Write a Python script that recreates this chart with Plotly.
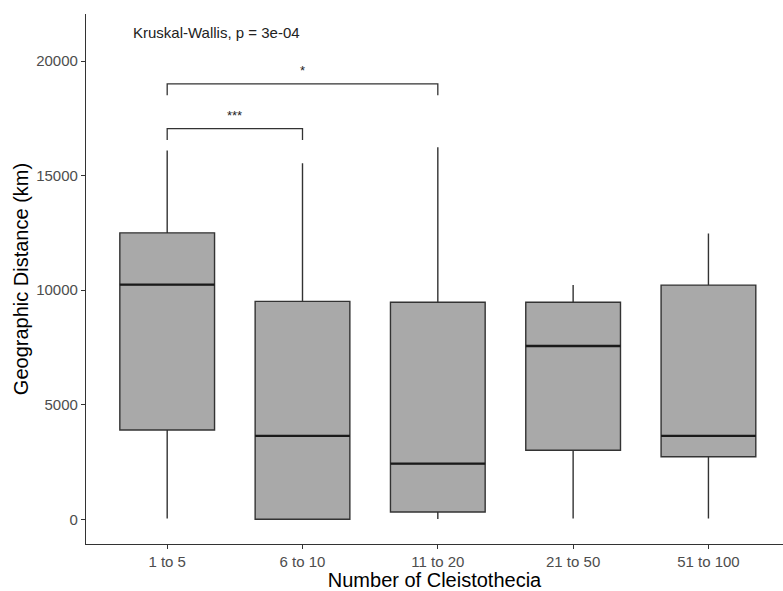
import plotly.graph_objects as go

# Group labels and five-number summaries (km)
groups = ["1 to 5", "6 to 10", "11 to 20", "21 to 50", "51 to 100"]
whisker_low = [40, 0, 15, 40, 40]
q1 = [3900, 0, 320, 3010, 2730]
median = [10240, 3640, 2430, 7560, 3640]
q3 = [12500, 9510, 9470, 9470, 10220]
whisker_high = [16090, 15540, 16240, 10230, 12470]

# Pairwise comparisons: (group a, group b, label, bracket height)
comparisons = [
    ("1 to 5", "6 to 10", "***", 17050),
    ("1 to 5", "11 to 20", "*", 19000),
]
overall_test = "Kruskal-Wallis, p = 3e-04"

y_ticks = [0, 5000, 10000, 15000, 20000]

FONT = "Arial, Liberation Sans, sans-serif"
pos = list(range(1, len(groups) + 1))
box_w = 0.7

fig = go.Figure()

fig.add_trace(go.Box(
    x=pos,
    q1=q1, median=median, q3=q3,
    lowerfence=whisker_low, upperfence=whisker_high,
    width=box_w,
    whiskerwidth=0,
    fillcolor="#A9A9A9",
    line=dict(color="#333333", width=1.4),
    boxpoints=False,
    hoverinfo="skip",
    showlegend=False,
))

# Heavier median bars, as in ggplot2
mx, my = [], []
for p, m in zip(pos, median):
    mx += [p - box_w / 2, p + box_w / 2, None]
    my += [m, m, None]
fig.add_trace(go.Scatter(
    x=mx, y=my, mode="lines",
    line=dict(color="#1a1a1a", width=2.4),
    hoverinfo="skip", showlegend=False,
))

# Significance brackets
tip = 500
for a, b, lab, h in comparisons:
    xa = pos[groups.index(a)]
    xb = pos[groups.index(b)]
    fig.add_trace(go.Scatter(
        x=[xa, xa, xb, xb], y=[h - tip, h, h, h - tip],
        mode="lines", line=dict(color="#333333", width=1.3),
        hoverinfo="skip", showlegend=False,
    ))
    fig.add_annotation(
        x=(xa + xb) / 2, y=h + 150, text=lab, showarrow=False,
        xanchor="center", yanchor="bottom",
        font=dict(family=FONT, size=13, color="#222222"),
    )

fig.add_annotation(
    x=0.735, y=21230, text=overall_test, showarrow=False,
    xanchor="left", yanchor="middle",
    font=dict(family=FONT, size=15, color="#222222"),
)

fig.update_layout(
    width=783, height=591,
    margin=dict(l=86, r=0, t=14, b=47),
    paper_bgcolor="white", plot_bgcolor="white",
    font=dict(family=FONT),
)

fig.update_xaxes(
    range=[0.4, 5.551],
    tickmode="array", tickvals=pos, ticktext=groups,
    showgrid=False, zeroline=False,
    showline=True, linecolor="#333333", linewidth=1.2,
    ticks="outside", ticklen=4, tickcolor="#333333", tickwidth=1.2,
    tickfont=dict(family=FONT, size=15, color="#4D4D4D"),
    title=dict(text="Number of Cleistothecia", standoff=4,
               font=dict(family=FONT, size=20, color="black")),
)
fig.update_yaxes(
    range=[-1078, 22051],
    tickmode="array", tickvals=y_ticks, ticktext=[str(v) for v in y_ticks],
    showgrid=False, zeroline=False,
    showline=True, linecolor="#333333", linewidth=1.2,
    ticks="outside", ticklen=4, tickcolor="#333333", tickwidth=1.2,
    tickfont=dict(family=FONT, size=15, color="#4D4D4D"),
    title=dict(text="Geographic Distance (km)", standoff=2,
               font=dict(family=FONT, size=20, color="black")),
)

fig.write_html("out.html")
